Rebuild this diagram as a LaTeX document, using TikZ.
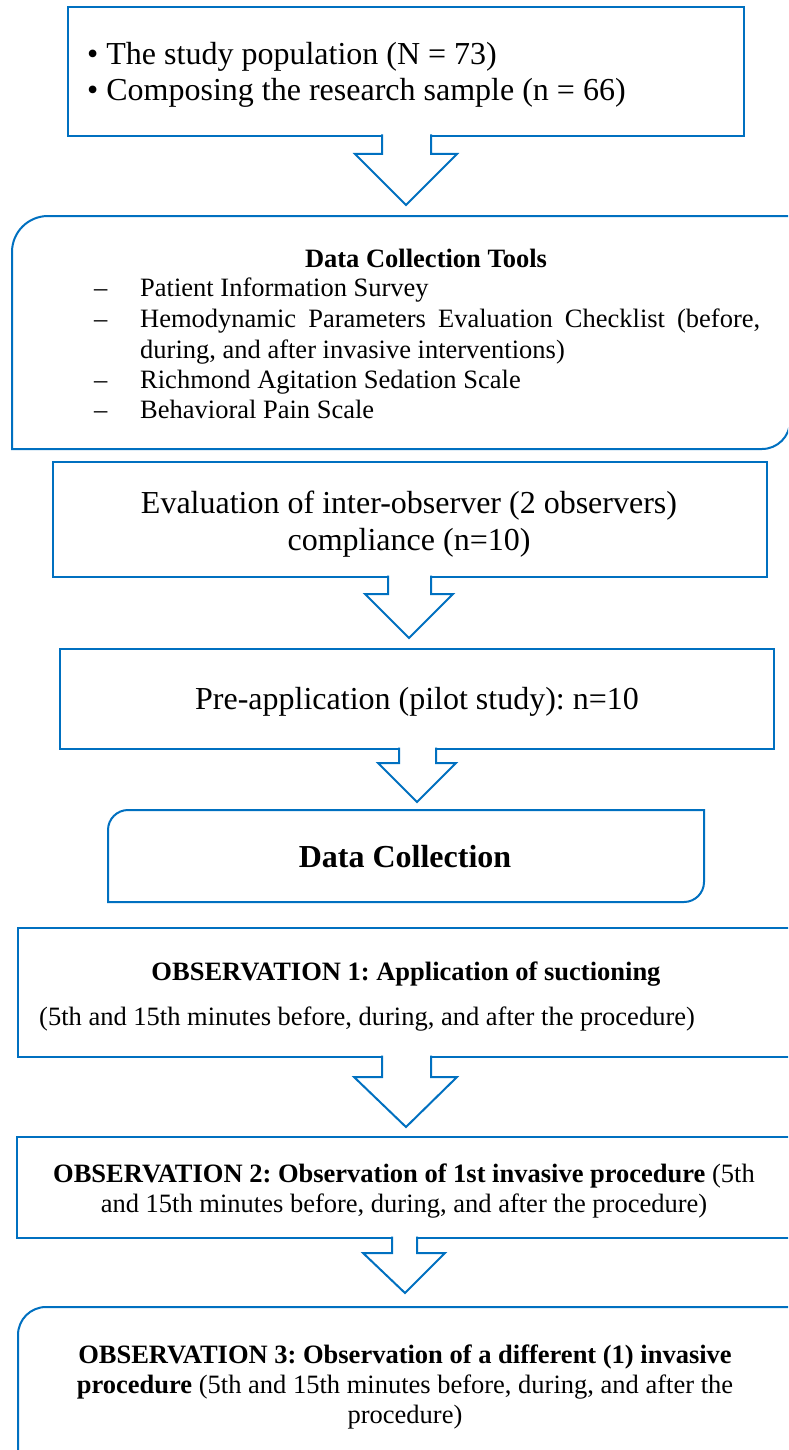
\documentclass[tikz,border=0pt]{standalone}
\usepackage{fontspec}
\setmainfont{Liberation Serif}
\frenchspacing
\definecolor{lineblue}{RGB}{0,112,192}
\tikzset{
  boxline/.style={draw=lineblue, line width=2pt, line join=miter},
  rbox/.style={boxline, rectangle, inner sep=0pt},
  bigtxt/.style={font=\fontsize{32}{37}\selectfont, inner sep=0pt, anchor=base},
  smalltxt/.style={font=\fontsize{26.5}{30.5}\selectfont, inner sep=0pt, anchor=base},
  blockarrow/.style={boxline, fill=white},
}
\begin{document}
\begin{tikzpicture}[x=1pt,y=-1pt]
\clip (0,0) rectangle (788,1450);
\fill[white] (0,0) rectangle (788,1450);

% ---- boxes ----
\node[rbox, minimum width=676pt, minimum height=129pt] (b1) at (406,71.5) {};
\draw[boxline] (12,252) .. controls (12,232.1) and (28.1,216) .. (48,216) -- (790,216)
  -- (790,421) .. controls (790,436.5) and (777.5,449) .. (762,449) -- (12,449) -- cycle;
\coordinate (b2) at (400,332);
\node[rbox, minimum width=714pt, minimum height=115pt] (b3) at (410,519.5) {};
\node[rbox, minimum width=714pt, minimum height=100pt] (b4) at (417,699) {};
\draw[boxline] (108,830) .. controls (108,819) and (117,810) .. (128,810) -- (704,810)
  -- (704,882) .. controls (704,893) and (695,902) .. (684,902) -- (108,902) -- cycle;
\coordinate (b5) at (406,856);
\node[rbox, minimum width=782pt, minimum height=129pt] (b6) at (409,992.5) {};
\node[rbox, minimum width=783pt, minimum height=101pt] (b7) at (408.5,1187.5) {};
\draw[boxline] (18,1335) .. controls (18,1319.5) and (30.5,1307) .. (46,1307) -- (800,1307)
  -- (800,1470) -- (18,1470) -- cycle;
\coordinate (b8) at (405,1390);

% ---- block arrows ----
\filldraw[blockarrow] (382,134.5) -- (382,154) -- (355,154) -- (406,205) -- (457,154) -- (431,154) -- (431,134.5);
\filldraw[blockarrow] (388,575.5) -- (388,594) -- (365,594) -- (409,638) -- (453,594) -- (431,594) -- (431,575.5);
\filldraw[blockarrow] (399,747.5) -- (399,763) -- (378,763) -- (417,802) -- (456,763) -- (436,763) -- (436,747.5);
\filldraw[blockarrow] (382,1055.5) -- (382,1077) -- (354,1077) -- (406,1127) -- (457,1077) -- (431,1077) -- (431,1055.5);
\filldraw[blockarrow] (392,1236.5) -- (392,1253) -- (363,1253) -- (405,1293) -- (445,1253) -- (417,1253) -- (417,1236.5);

% ---- texts ----
\node[bigtxt, anchor=base west] (t1a) at (87,65) {• The study population (N = 73)};
\node[bigtxt, anchor=base west] (t1b) at (87,101) {• Composing the research sample (n = 66)};

\node[smalltxt] (t2h) at (426,267) {\textbf{Data Collection Tools}};
\node[smalltxt, anchor=base west] (d1) at (94,296) {–};
\node[smalltxt, anchor=base west] (t2a) at (140,296) {Patient Information Survey};
\node[smalltxt, anchor=base west] (d2) at (94,327) {–};
\node[smalltxt, anchor=base west] (t2b) at (140,327) {\makebox[620pt][s]{Hemodynamic Parameters Evaluation Checklist (before,}};
\node[smalltxt, anchor=base west] (t2c) at (140,358) {during, and after invasive interventions)};
\node[smalltxt, anchor=base west] (d3) at (94,388) {–};
\node[smalltxt, anchor=base west] (t2d) at (140,388) {Richmond Agitation Sedation Scale};
\node[smalltxt, anchor=base west] (d4) at (94,418) {–};
\node[smalltxt, anchor=base west] (t2e) at (140,418) {Behavioral Pain Scale};

\node[bigtxt] (t3a) at (409,513) {Evaluation of inter-observer (2 observers)};
\node[bigtxt] (t3b) at (409,550) {compliance (n=10)};

\node[bigtxt] (t4) at (417,709) {Pre-application (pilot study): n=10};

\node[bigtxt] (t5) at (405,867) {\textbf{Data Collection}};

\node[smalltxt] (t6a) at (406,980) {\textbf{OBSERVATION 1: Application of suctioning}};
\node[smalltxt, anchor=base west] (t6b) at (39,1025) {(5th and 15th minutes before, during, and after the procedure)};

\node[smalltxt] (t7a) at (404,1182) {\textbf{OBSERVATION 2: Observation of 1st invasive procedure} (5th};
\node[smalltxt] (t7b) at (404,1212) {and 15th minutes before, during, and after the procedure)};

\node[smalltxt] (t8a) at (405,1363) {\textbf{OBSERVATION 3: Observation of a different (1) invasive}};
\node[smalltxt] (t8b) at (405,1393) {\textbf{procedure} (5th and 15th minutes before, during, and after the};
\node[smalltxt] (t8c) at (405,1423) {procedure)};
\end{tikzpicture}
\end{document}
